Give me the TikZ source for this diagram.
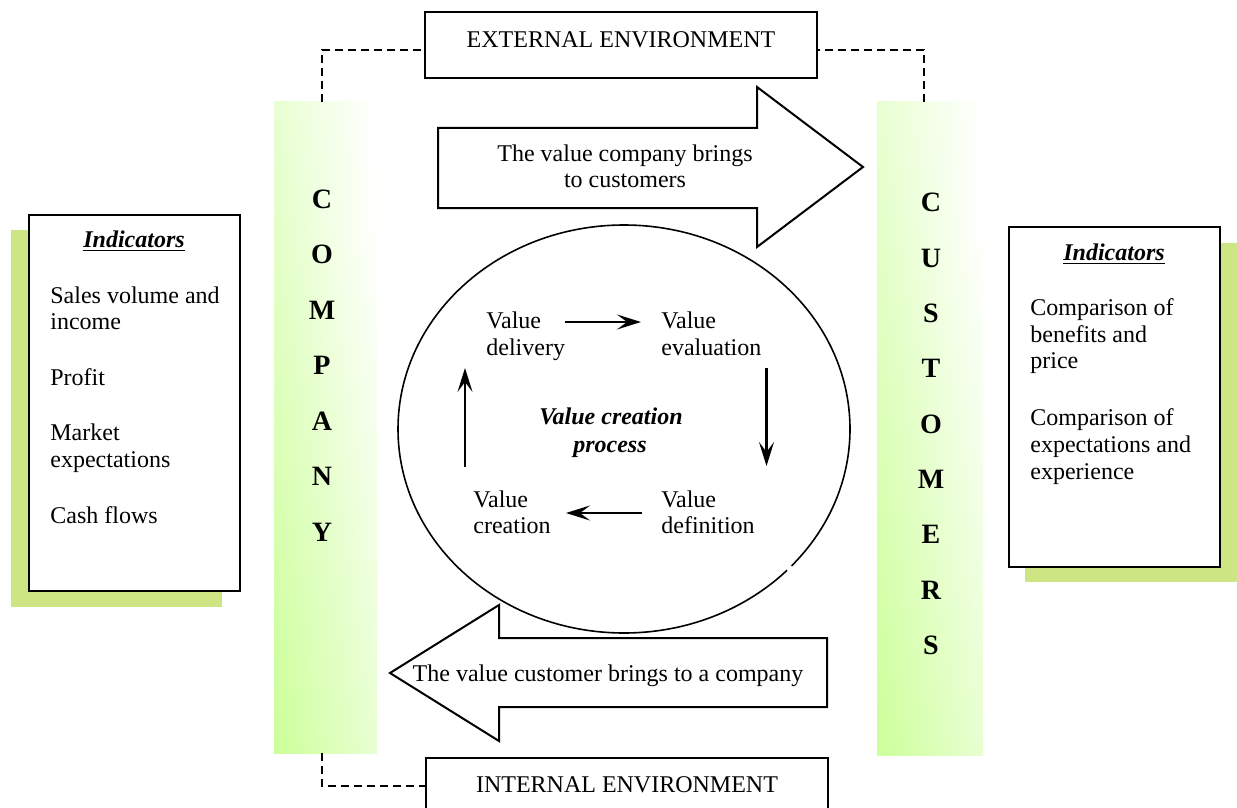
\documentclass[tikz,border=0pt]{standalone}
\usepackage{fontspec}
\setmainfont{Liberation Serif}
\usetikzlibrary{arrows.meta,calc}
\definecolor{bargreen}{RGB}{204,255,153}
\definecolor{shadowgreen}{RGB}{205,229,130}
\begin{document}
\begin{tikzpicture}[x=0.5pt,y=-0.5pt,
  txt/.style={font=\fontsize{12}{13.5}\selectfont, inner sep=0pt, anchor=base west},
  ctxt/.style={font=\fontsize{12}{13.5}\selectfont, inner sep=0pt, anchor=base},
  bartxt/.style={font=\fontsize{14}{14}\selectfont\bfseries, inner sep=0pt, anchor=base},
  envbox/.style={draw, line width=1pt, fill=white},
  envline/.style={dash pattern=on 4pt off 2.5pt, line width=0.75pt},
  indbox/.style={draw, line width=1pt, fill=white},
  bigarrow/.style={draw, line width=1pt, fill=white, line join=miter},
  flow/.style={line width=1.3pt, -{Stealth[length=12pt, width=7.5pt, inset=5pt]}},
  ]
\useasboundingbox (0,0) rectangle (1237,808);

% bars with diagonal gradient (green bottom-left to white top-right)
\foreach \xa/\xb/\yy/\hh in {274/377/753/651, 877/983/755/653} {
  \foreach \k in {0,...,39} {
    \pgfmathsetmacro\v{(\k+0.5)/40}
    \pgfmathtruncatemacro\fL{100*(1-0.55*\v)}
    \pgfmathtruncatemacro\fR{100*max(0,0.45-0.55*\v)}
    \pgfmathsetmacro\yb{min(\yy-\hh/40*\k+0.6,\yy)}
    \pgfmathsetmacro\yt{max(\yy-\hh/40*(\k+1)-0.6,\yy-\hh)}
    \shade[left color=bargreen!\fL!white, right color=bargreen!\fR!white]
      (\xa,\yb) rectangle (\xb,\yt);
  }
}
\node[inner sep=0pt, minimum size=0pt] (company) at (322,102) {};
\node[inner sep=0pt, minimum size=0pt] (customers) at (924,102) {};
\node[inner sep=0pt, minimum size=0pt] (companybot) at (322,753) {};

% environment boxes
\draw[envbox] (425,12) rectangle (817,78);
\draw[envbox] (426,758) rectangle (828,815);
\coordinate (extL) at (425,50);
\coordinate (extR) at (817,50);
\coordinate (intL) at (426,786);
\draw[envline] (company.center) |- (extL);
\draw[envline] (customers.center) |- (extR);
\draw[envline] (companybot.center) |- (intL);
\node[ctxt] (ext) at (621,48) {EXTERNAL ENVIRONMENT};
\node[ctxt] (int) at (627,792) {INTERNAL ENVIRONMENT};

% indicator boxes
\fill[shadowgreen] (11,230) rectangle (222,607);
\draw[indbox] (29,215) rectangle (240,591);
\fill[shadowgreen] (1025,243) rectangle (1237,582);
\draw[indbox] (1009,227) rectangle (1220,567);

\node[ctxt] (indL) at (134,247) {\underline{\textbf{\textit{Indicators}}}};
\node[txt] (l1) at (50,303) {Sales volume and};
\node[txt] (l2) at (50,329.5) {income};
\node[txt] (l3) at (50,385) {Profit};
\node[txt] (l4) at (50,440.5) {Market};
\node[txt] (l5) at (50,467) {expectations};
\node[txt] (l6) at (50,523) {Cash flows};

\node[ctxt] (indR) at (1114,260) {\underline{\textbf{\textit{Indicators}}}};
\node[txt] (r1) at (1030,315) {Comparison of};
\node[txt] (r2) at (1030,342) {benefits and};
\node[txt] (r3) at (1030,368.5) {price};
\node[txt] (r4) at (1030,425) {Comparison of};
\node[txt] (r5) at (1030,452) {expectations and};
\node[txt] (r6) at (1030,479) {experience};

% big arrows
\draw[bigarrow] (438,128) -- (757,128) -- (757,87) -- (863,167) -- (757,247) -- (757,208) -- (438,208) -- cycle;
\draw[bigarrow] (827,638) -- (499,638) -- (499,605) -- (390,673) -- (499,741) -- (499,707) -- (827,707) -- cycle;
\node[ctxt] (a1) at (625,162) {The value company brings};
\node[ctxt] (a2) at (625,187) {to customers};
\node[ctxt] (a3) at (608,681) {The value customer brings to a company};

% ellipse
\draw[line width=0.8pt] (624,429) ellipse [x radius=113pt, y radius=102pt];
\fill[white] (789.2,568.1) circle [radius=1.6pt];

% bar letters
\foreach \L [count=\i from 0] in {C,O,M,P,A,N,Y}
  \node[bartxt] (co\i) at (322,208+55.5*\i) {\L};
\foreach \L [count=\i from 0] in {C,U,S,T,O,M,E,R,S}
  \node[bartxt] (cu\i) at (931,212+55.3*\i) {\L};

% value cycle
\node[txt] (vd1) at (486,328) {Value};
\node[txt] (vd2) at (486,355) {delivery};
\node[txt] (ve1) at (661,328) {Value};
\node[txt] (ve2) at (661,355) {evaluation};
\node[txt] (vc1) at (473,507) {Value};
\node[txt] (vc2) at (473,533) {creation};
\node[txt] (vf1) at (661,507) {Value};
\node[txt] (vf2) at (661,533) {definition};
\node[ctxt, font=\fontsize{12}{13.5}\selectfont\bfseries\itshape] (p1) at (611,424) {Value creation};
\node[ctxt, font=\fontsize{12}{13.5}\selectfont\bfseries\itshape] (p2) at (610,452) {process};

\coordinate (f1s) at (565,322);
\coordinate (f1e) at (641,322);
\coordinate (f2s) at (766.5,368);
\coordinate (f2e) at (766.5,466);
\coordinate (f3s) at (642,513);
\coordinate (f3e) at (566,513);
\coordinate (f4s) at (465,467);
\coordinate (f4e) at (465,368);
\draw[flow] (f1s) -- (f1e);
\draw[flow] (f2s) -- (f2e);
\draw[flow] (f3s) -- (f3e);
\draw[flow] (f4s) -- (f4e);
\end{tikzpicture}
\end{document}
